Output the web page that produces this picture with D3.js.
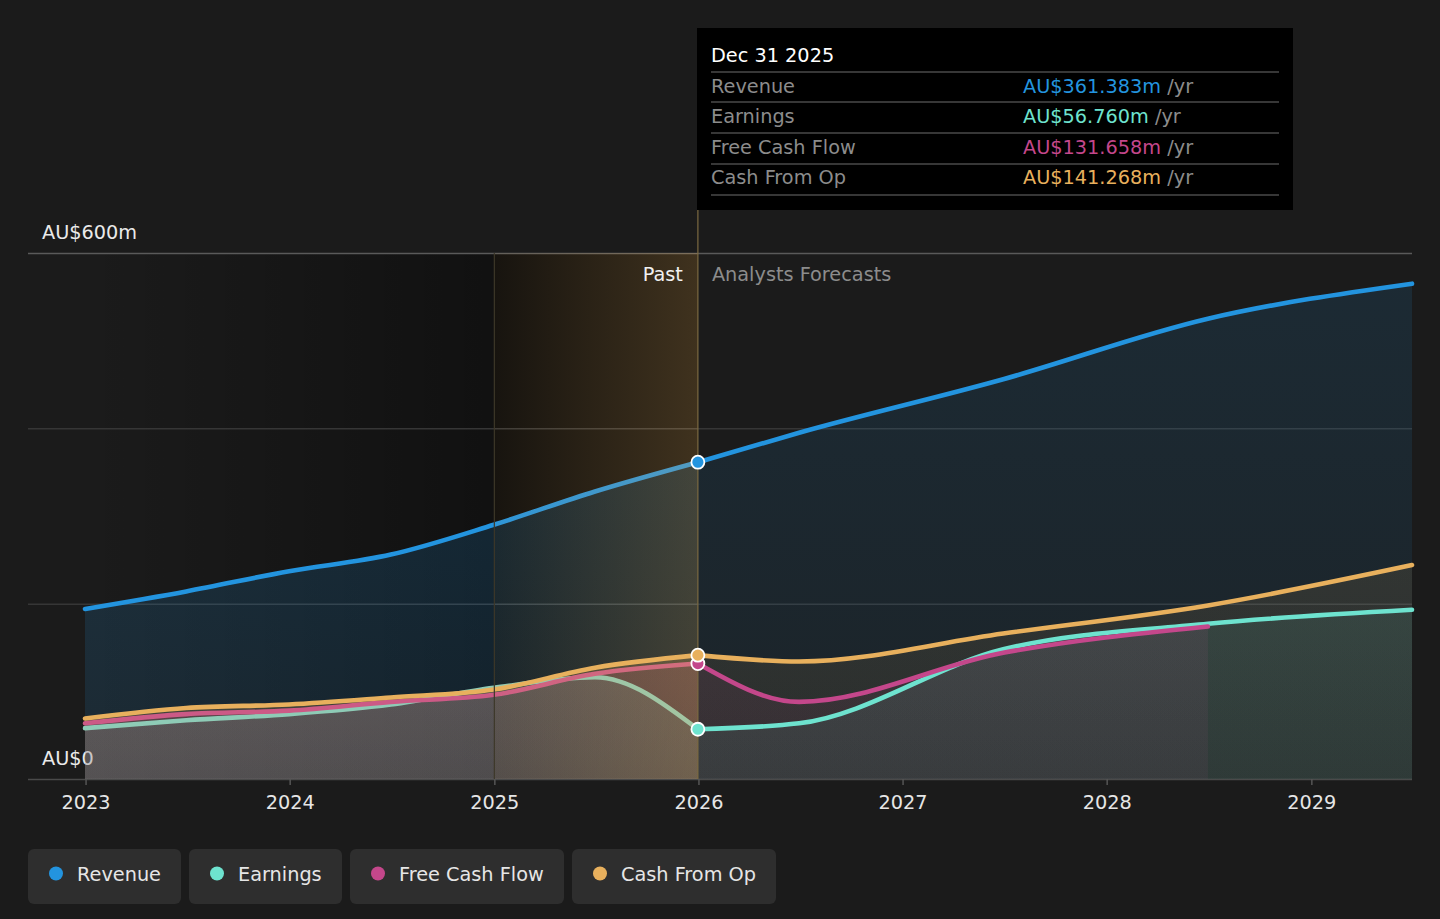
<!DOCTYPE html>
<html>
<head>
<meta charset="utf-8">
<script src="https://cdn.jsdelivr.net/npm/d3@7/dist/d3.min.js"></script>
<style>
  body { margin: 0; background: #1b1b1b; }
  svg { display: block; font-family: "DejaVu Sans", sans-serif; }
</style>
</head>
<body>
<svg id="chart" width="1440" height="919"></svg>
<script>
// ---- data (AU$ m, trailing twelve months / analyst forecasts) ----
var pastDates = ["2022-12-31", "2023-06-30", "2023-12-31", "2024-06-30", "2024-12-31", "2025-06-30", "2025-12-31"];
var forecastDates = ["2025-12-31", "2026-06-30", "2027-06-30", "2028-06-30", "2029-06-30"];

var revenuePast = [194, 214, 237, 256, 290, 328, 361.383];
var revenueForecast = [361.383, 395, 456, 525, 565];
var earningsPast = [58, 67, 74, 85, 104, 116, 56.76];
var earningsForecast = [56.76, 63.5, 148, 177, 193];
var fcfPast = [63.5, 74, 78, 88, 96, 120, 131.658];
var fcfForecast = [131.658, 88, 144, 174];
var cfoPast = [69, 81, 85, 93, 102, 127, 141.268];
var cfoForecast = [141.268, 134, 166, 198, 244];

var yTicks = [0, 200, 400, 600];
var yTickLabels = ["AU$0", "", "", "AU$600m"];
var xTickYears = [2023, 2024, 2025, 2026, 2027, 2028, 2029];

var tooltipTitle = "Dec 31 2025";
var tooltipLabels = ["Revenue", "Earnings", "Free Cash Flow", "Cash From Op"];
var tooltipValues = ["AU$361.383m", "AU$56.760m", "AU$131.658m", "AU$141.268m"];

var seriesNames = ["Revenue", "Earnings", "Free Cash Flow", "Cash From Op"];
var seriesColors = ["#2394df", "#6ee3cf", "#c4478b", "#e8b05d"];
var pastLineColors = ["#2394df", "#8ecbb6", "#cc5a86", "#e8b05d"];

// ---- setup ----
var FS = 19.3;
var parse = d3.timeParse("%Y-%m-%d");
var svg = d3.select("#chart");

var x = d3.scaleTime()
    .domain([parse("2022-12-31"), parse("2029-06-30")])
    .range([85, 1412]);
var y = d3.scaleLinear().domain([0, 600]).range([779, 253]);

var gridLeft = 28, gridRight = 1412;
var bandStart = parse("2025-01-01"), nowDate = parse("2025-12-31");

function zip(dates, vals) {
  return vals.map(function(v, i) { return { date: parse(dates[i]), value: v }; });
}

var series = [
  { name: seriesNames[0], past: zip(pastDates, revenuePast), fc: zip(forecastDates, revenueForecast) },
  { name: seriesNames[1], past: zip(pastDates, earningsPast), fc: zip(forecastDates, earningsForecast) },
  { name: seriesNames[2], past: zip(pastDates, fcfPast), fc: zip(forecastDates, fcfForecast) },
  { name: seriesNames[3], past: zip(pastDates, cfoPast), fc: zip(forecastDates, cfoForecast) }
];
series.forEach(function(s, i) { s.color = seriesColors[i]; s.pastColor = pastLineColors[i]; });

// fill opacity [top, bottom] per series, past and forecast
var pastFill = [[0.22, 0.12], [0.2, 0.1], [0.3, 0.14], [0.38, 0.17]];
var fcFill = [[0.13, 0.07], [0.16, 0.07], [0.16, 0.07], [0.16, 0.07]];

var defs = svg.append("defs");

// dark "past" wash
var pg = defs.append("linearGradient").attr("id", "pastWash")
    .attr("gradientUnits", "userSpaceOnUse")
    .attr("x1", x.range()[0]).attr("x2", x(bandStart)).attr("y1", 0).attr("y2", 0);
pg.append("stop").attr("offset", 0).attr("stop-color", "#000").attr("stop-opacity", 0);
pg.append("stop").attr("offset", 1).attr("stop-color", "#000").attr("stop-opacity", 0.38);

// golden highlight band
var bg = defs.append("linearGradient").attr("id", "bandWash")
    .attr("gradientUnits", "userSpaceOnUse")
    .attr("x1", x(bandStart)).attr("x2", x(nowDate)).attr("y1", 0).attr("y2", 0);
bg.append("stop").attr("offset", 0).attr("stop-color", "#e8b05d").attr("stop-opacity", 0.06);
bg.append("stop").attr("offset", 1).attr("stop-color", "#e8b05d").attr("stop-opacity", 0.24);

series.forEach(function(s, i) {
  [["p", pastFill[i]], ["f", fcFill[i]]].forEach(function(cfg) {
    var g = defs.append("linearGradient").attr("id", "area" + cfg[0] + i)
        .attr("gradientUnits", "userSpaceOnUse")
        .attr("x1", 0).attr("x2", 0).attr("y1", y(600)).attr("y2", y(0));
    g.append("stop").attr("offset", 0).attr("stop-color", s.color).attr("stop-opacity", cfg[1][0]);
    g.append("stop").attr("offset", 1).attr("stop-color", s.color).attr("stop-opacity", cfg[1][1]);
  });
});

// ---- background zones ----
svg.append("rect")
    .attr("x", x.range()[0]).attr("y", y(600))
    .attr("width", x(nowDate) - x.range()[0]).attr("height", y(0) - y(600))
    .attr("fill", "url(#pastWash)");
svg.append("rect")
    .attr("x", x(bandStart)).attr("y", y(600))
    .attr("width", x(nowDate) - x(bandStart)).attr("height", y(0) - y(600))
    .attr("fill", "rgba(0,0,0,0.38)");

// ---- grid ----
svg.append("g").selectAll("line").data(yTicks).join("line")
    .attr("x1", gridLeft).attr("x2", gridRight)
    .attr("y1", function(d) { return y(d) + 0.5; }).attr("y2", function(d) { return y(d) + 0.5; })
    .attr("stroke", function(d) { return d === 600 ? "#5a5a5a" : (d === 0 ? "#4a4a4a" : "#363636"); })
    .attr("stroke-width", 1.5);

svg.append("g").selectAll("text").data(yTicks.filter(function(d, i) { return yTickLabels[i]; })).join("text")
    .attr("x", 42)
    .attr("y", function(d) { return y(d) - 14; })
    .attr("fill", "#eaeaea").attr("font-size", FS)
    .text(function(d) { return yTickLabels[yTicks.indexOf(d)]; });

// ---- areas ----
var area = d3.area().curve(d3.curveMonotoneX)
    .x(function(d) { return x(d.date); }).y0(y(0)).y1(function(d) { return y(d.value); });
var line = d3.line().curve(d3.curveMonotoneX)
    .x(function(d) { return x(d.date); }).y(function(d) { return y(d.value); });

var areaOrder = [0, 3, 2, 1];
var gAreas = svg.append("g");
areaOrder.forEach(function(i) {
  var s = series[i];
  gAreas.append("path").attr("d", area(s.past)).attr("fill", "url(#areap" + i + ")");
  gAreas.append("path").attr("d", area(s.fc)).attr("fill", "url(#areaf" + i + ")");
});

// ---- lines ----
var lineOrder = [0, 1, 2, 3];
var gLines = svg.append("g");
lineOrder.forEach(function(i) {
  var s = series[i];
  gLines.append("path").attr("d", line(s.past))
      .attr("fill", "none").attr("stroke", s.pastColor)
      .attr("stroke-width", 4.6).attr("stroke-linecap", "round");
  gLines.append("path").attr("d", line(s.fc))
      .attr("fill", "none").attr("stroke", s.color)
      .attr("stroke-width", 4.6).attr("stroke-linecap", "round");
});

// golden band over past lines
svg.append("rect")
    .attr("x", x(bandStart)).attr("y", y(600))
    .attr("width", x(nowDate) - x(bandStart)).attr("height", y(0) - y(600))
    .attr("fill", "url(#bandWash)");

svg.append("line")
    .attr("x1", x(bandStart)).attr("x2", x(bandStart))
    .attr("y1", y(600)).attr("y2", y(0))
    .attr("stroke", "#3d3829").attr("stroke-width", 1.2);
svg.append("line")
    .attr("x1", x(nowDate)).attr("x2", x(nowDate))
    .attr("y1", 210).attr("y2", y(0))
    .attr("stroke", "#7d6a42").attr("stroke-width", 1.2);

// ---- x axis ----
var xAxis = d3.axisBottom(x)
    .tickValues(xTickYears.map(function(yr) { return new Date(yr, 0, 1); }))
    .tickFormat(d3.timeFormat("%Y"))
    .tickSize(6).tickPadding(10);
var gx = svg.append("g").attr("transform", "translate(0," + y(0) + ")").call(xAxis);
gx.select(".domain").remove();
gx.selectAll(".tick line").attr("stroke", "#555").attr("stroke-width", 1.5);
gx.selectAll(".tick text").attr("fill", "#e6e6e6").attr("font-size", FS)
    .attr("font-family", "DejaVu Sans, sans-serif");

// ---- current-point dots ----
var dotOrder = [0, 2, 3, 1];
svg.append("g").selectAll("circle").data(dotOrder).join("circle")
    .attr("cx", function(i) { return x(series[i].past[series[i].past.length - 1].date); })
    .attr("cy", function(i) { return y(series[i].past[series[i].past.length - 1].value); })
    .attr("r", 6.5)
    .attr("fill", function(i) { return series[i].color; })
    .attr("stroke", "#fff").attr("stroke-width", 1.8);

// ---- zone labels ----
svg.append("text").attr("x", x(nowDate) - 15).attr("y", 281)
    .attr("text-anchor", "end").attr("fill", "#f0f0f0").attr("font-size", FS).text("Past");
svg.append("text").attr("x", x(nowDate) + 14).attr("y", 281)
    .attr("fill", "#8c8c8c").attr("font-size", FS).text("Analysts Forecasts");

// ---- tooltip ----
var tip = svg.append("g");
tip.append("rect").attr("x", 697).attr("y", 28).attr("width", 596).attr("height", 182).attr("fill", "#000");
tip.append("text").attr("x", 711).attr("y", 62).attr("fill", "#fff").attr("font-size", FS).text(tooltipTitle);
var rowY = [72, 102, 133, 164, 195];
var rowBase = [93, 123, 154, 184];
tip.selectAll("line").data(rowY).join("line")
    .attr("x1", 711).attr("x2", 1279)
    .attr("y1", function(d) { return d; }).attr("y2", function(d) { return d; })
    .attr("stroke", "#4a4a4a").attr("stroke-width", 1.5);
tooltipLabels.forEach(function(lbl, i) {
  tip.append("text").attr("x", 711).attr("y", rowBase[i]).attr("fill", "#8c8c8c").attr("font-size", FS).text(lbl);
  var t = tip.append("text").attr("x", 1023).attr("y", rowBase[i]).attr("font-size", FS);
  t.append("tspan").attr("fill", seriesColors[i]).text(tooltipValues[i]);
  t.append("tspan").attr("fill", "#8c8c8c").text(" /yr");
});

// ---- legend ----
var lg = svg.append("g");
var lx = 28;
seriesNames.forEach(function(name, i) {
  var g = lg.append("g").attr("transform", "translate(" + lx + ",849)");
  var r = g.append("rect").attr("height", 55).attr("rx", 6).attr("fill", "#2e2e2e");
  g.append("circle").attr("cx", 28).attr("cy", 24.5).attr("r", 7).attr("fill", seriesColors[i]);
  var t = g.append("text").attr("x", 49).attr("y", 31.5).attr("fill", "#e6e6e6").attr("font-size", FS).text(name);
  var w = Math.round(49 + t.node().getComputedTextLength() + 20);
  r.attr("width", w);
  lx += w + 8;
});
</script>
</body>
</html>
